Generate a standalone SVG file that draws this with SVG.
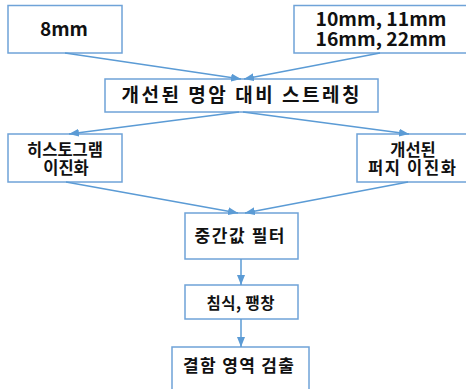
<svg xmlns="http://www.w3.org/2000/svg" width="466" height="389" viewBox="0 0 466 389">
  <defs>
    <marker id="ah" markerUnits="userSpaceOnUse" markerWidth="10" markerHeight="8" refX="10" refY="4" orient="auto">
      <path d="M0,0 L10,4 L0,8 z" fill="#5B9BD5"/>
    </marker>
    <style>
      .box { fill: #ffffff; stroke: #6FA3D8; stroke-width: 1.5; }
      .t { font-family: "Noto Sans CJK KR", "Liberation Sans", sans-serif; font-weight: bold; fill: #111111; text-anchor: middle; }
      .conn line { stroke: #5B9BD5; stroke-width: 1.5; marker-end: url(#ah); }
    </style>
  </defs>
  <rect width="466" height="389" fill="#ffffff"/>

  <g id="n8mm">
    <rect class="box" x="8" y="5.5" width="114" height="47.5"/>
    <text class="t" x="64" y="36" font-size="19" textLength="48" lengthAdjust="spacingAndGlyphs">8mm</text>
  </g>
  <g id="nmm">
    <rect class="box" x="294" y="5.5" width="175" height="47.5"/>
    <text class="t" x="381" y="26" font-size="18.5" textLength="131" lengthAdjust="spacingAndGlyphs">10mm, 11mm</text>
    <text class="t" x="381" y="46" font-size="18.5" textLength="131" lengthAdjust="spacingAndGlyphs">16mm, 22mm</text>
  </g>
  <g id="nstretch">
    <rect class="box" x="105" y="79" width="273" height="33"/>
    <text class="t" x="240.5" y="102" font-size="19" textLength="238" lengthAdjust="spacing">개선된 명암 대비 스트레칭</text>
  </g>
  <g id="nhist">
    <rect class="box" x="8" y="134" width="114" height="48"/>
    <text class="t" x="65" y="155.5" font-size="16.5">히스토그램</text>
    <text class="t" x="66" y="174" font-size="16.5">이진화</text>
  </g>
  <g id="nfuzzy">
    <rect class="box" x="357" y="134" width="112" height="48"/>
    <text class="t" x="413" y="155.5" font-size="16.5">개선된</text>
    <text class="t" x="412" y="174" font-size="16.5" textLength="88" lengthAdjust="spacing">퍼지 이진화</text>
  </g>
  <g id="nmedian">
    <rect class="box" x="185" y="213" width="113" height="46"/>
    <text class="t" x="239.5" y="242" font-size="17" textLength="90" lengthAdjust="spacing">중간값 필터</text>
  </g>
  <g id="nerode">
    <rect class="box" x="185" y="285" width="113" height="34"/>
    <text class="t" x="240.5" y="309" font-size="15.5" textLength="68" lengthAdjust="spacing">침식, 팽창</text>
  </g>
  <g id="ndetect">
    <rect class="box" x="172" y="347" width="137" height="45"/>
    <text class="t" x="238.5" y="372" font-size="17" textLength="111" lengthAdjust="spacing">결함 영역 검출</text>
  </g>

  <g id="connectors" class="conn">
    <line x1="65" y1="53" x2="241" y2="79"/>
    <line x1="380" y1="53" x2="244" y2="79"/>
    <line x1="239" y1="112" x2="69" y2="134"/>
    <line x1="243" y1="112" x2="409" y2="134"/>
    <line x1="66" y1="182" x2="238" y2="213"/>
    <line x1="408" y1="182" x2="245" y2="213"/>
    <line x1="241" y1="259" x2="241" y2="285"/>
    <line x1="241" y1="319" x2="241" y2="347"/>
  </g>
</svg>
